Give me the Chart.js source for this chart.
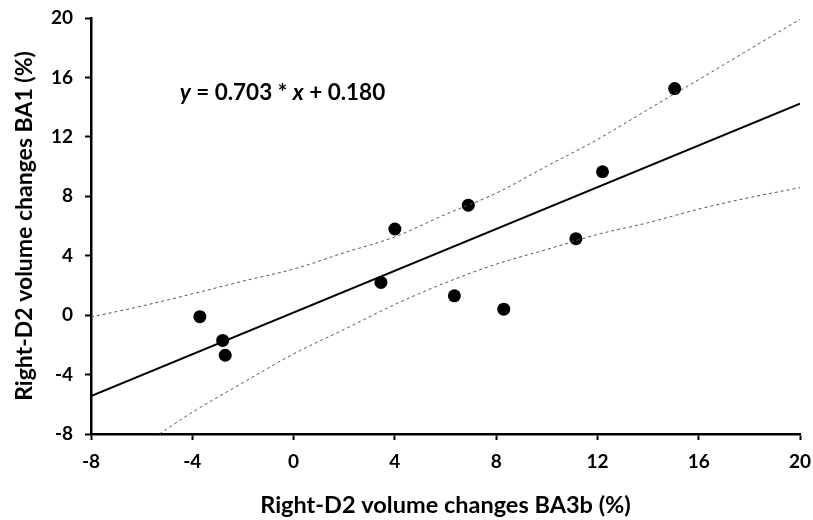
<!DOCTYPE html>
<html>
<head>
<meta charset="utf-8">
<script src="https://cdn.jsdelivr.net/npm/chart.js@4.4.0/dist/chart.umd.min.js"></script>
<style>
  html, body { margin: 0; padding: 0; background: #fff; }
  #wrap { width: 813px; height: 520px; position: relative; }
</style>
</head>
<body>
<div id="wrap"><canvas id="chart"></canvas></div>
<script>
// measured points (BA3b change vs BA1 change, %)
const pointsX = [-3.7, -2.8, -2.7, 3.45, 4.0, 6.35, 6.9, 8.3, 11.15, 12.2, 15.05];
const pointsY = [-0.1, -1.7, -2.7, 2.2, 5.8, 1.3, 7.4, 0.4, 5.15, 9.65, 15.25];

// fitted line end points
const fitX = [-8, 20];
const fitY = [-5.44, 14.24];

// confidence band
const upperX = [-8, -6, -4, -2, 0, 2, 4, 6, 8, 10, 12, 14, 16, 18, 20];
const upperY = [-0.13, 0.61, 1.43, 2.29, 3.10, 4.20, 5.27, 6.78, 8.21, 10.03, 11.82, 13.85, 15.85, 17.89, 19.91];
const lowerX = [-5.3, -4, -2, 0, 2, 4, 6, 8, 10, 12, 14, 16, 18, 20];
const lowerY = [-8, -6.54, -4.55, -2.61, -0.96, 0.72, 2.18, 3.43, 4.42, 5.43, 6.22, 7.14, 7.91, 8.58];

const tickValues = [-8, -4, 0, 4, 8, 12, 16, 20];

const FONT = 'Lato, "Open Sans", sans-serif';

function pairs(xs, ys){
  return xs.map((x,i)=>({x:x, y:ys[i]}));
}

// equation label drawn inside the plot
const equationPlugin = {
  id: 'equation',
  afterDatasetsDraw(chart){
    const ctx = chart.ctx;
    const xs = chart.scales.x, ys = chart.scales.y;
    let px = xs.getPixelForValue(-4.5);
    const py = ys.getPixelForValue(15.0);
    const parts = [
      {t:'y', it:true}, {t:' = 0.703 * ', it:false}, {t:'x', it:true}, {t:' + 0.180', it:false}
    ];
    ctx.save();
    ctx.fillStyle = '#000';
    ctx.textBaseline = 'middle';
    ctx.textAlign = 'left';
    parts.forEach(p=>{
      ctx.font = (p.it ? 'italic ' : '') + 'bold 22.5px ' + FONT;
      ctx.fillText(p.t, px, py);
      px += ctx.measureText(p.t).width;
    });
    ctx.restore();
  }
};

const ctx = document.getElementById('chart').getContext('2d');
new Chart(ctx, {
  type: 'scatter',
  data: {
    datasets: [
      {
        label: 'upper',
        data: pairs(upperX, upperY),
        showLine: true,
        borderColor: '#555',
        borderWidth: 1,
        borderDash: [3, 3],
        pointRadius: 0,
        cubicInterpolationMode: 'monotone'
      },
      {
        label: 'lower',
        data: pairs(lowerX, lowerY),
        showLine: true,
        borderColor: '#555',
        borderWidth: 1,
        borderDash: [3, 3],
        pointRadius: 0,
        cubicInterpolationMode: 'monotone'
      },
      {
        label: 'fit',
        data: pairs(fitX, fitY),
        showLine: true,
        borderColor: '#000',
        borderWidth: 2,
        pointRadius: 0
      },
      {
        label: 'subjects',
        data: pairs(pointsX, pointsY),
        pointRadius: 6.5,
        pointBackgroundColor: '#000',
        pointBorderColor: '#000',
        pointBorderWidth: 0
      }
    ]
  },
  options: {
    responsive: true,
    maintainAspectRatio: false,
    animation: false,
    layout: { padding: { top: 18, right: 0, left: 0, bottom: 0 } },
    plugins: { legend: { display: false }, tooltip: { enabled: false } },
    scales: {
      x: {
        type: 'linear',
        min: -8, max: 20,
        afterBuildTicks: s => { s.ticks = tickValues.map(v=>({value:v})); },
        afterFit: s => { s.height = 86; s.paddingRight = 13; s.paddingLeft = 0; },
        grid: { drawOnChartArea: false, tickLength: 6, tickWidth: 2, tickColor: '#000' },
        border: { color: '#000', width: 2.5 },
        ticks: { color: '#000', font: { family: FONT, size: 19, weight: 'bold' }, padding: 10 },
        title: {
          display: true,
          text: 'Right-D2 volume changes BA3b (%)',
          color: '#000',
          font: { family: FONT, size: 23.5, weight: 'bold' },
          padding: { top: 4, bottom: 0 }
        }
      },
      y: {
        type: 'linear',
        min: -8, max: 20,
        afterBuildTicks: s => { s.ticks = tickValues.map(v=>({value:v})); },
        afterFit: s => { s.width = 91; s.paddingTop = 0; s.paddingBottom = 0; },
        grid: { drawOnChartArea: false, tickLength: 6, tickWidth: 2, tickColor: '#000' },
        border: { color: '#000', width: 2.5 },
        ticks: { color: '#000', font: { family: FONT, size: 19, weight: 'bold' }, padding: 12 },
        title: {
          display: true,
          text: 'Right-D2 volume changes BA1 (%)',
          color: '#000',
          font: { family: FONT, size: 23, weight: 'bold' },
          padding: { top: 11, bottom: 4 }
        }
      }
    }
  },
  plugins: [equationPlugin]
});
</script>
</body>
</html>
